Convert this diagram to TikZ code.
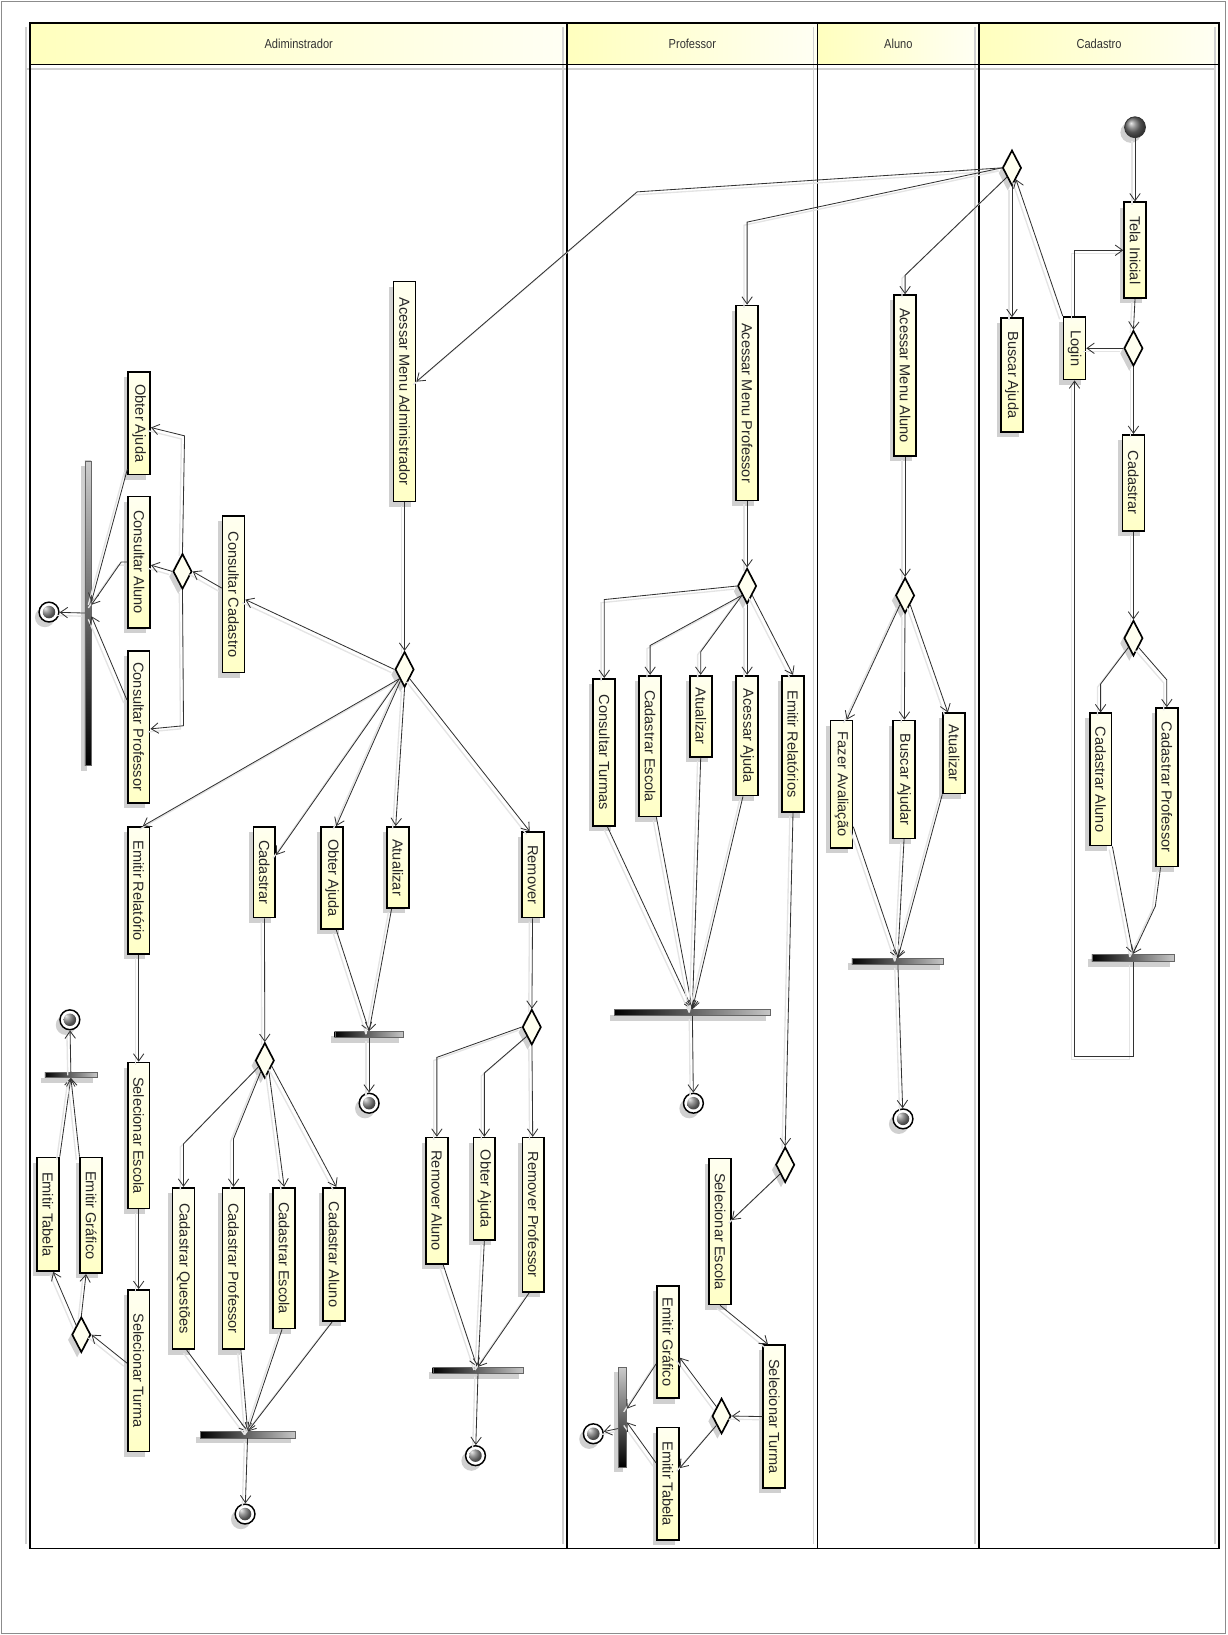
\documentclass[tikz,border=0pt]{standalone}
\usepackage{fontspec}
\usepackage{graphicx}
\setmainfont{Liberation Sans}
\usetikzlibrary{arrows.meta,shapes.geometric,shadows,calc}
\definecolor{actA}{RGB}{255,255,240}
\definecolor{actB}{RGB}{255,255,198}
\definecolor{hdrA}{RGB}{255,255,190}
\definecolor{hdrB}{RGB}{255,255,244}
\definecolor{edgec}{RGB}{50,50,50}
\definecolor{sh}{RGB}{208,208,208}
\definecolor{lsh}{RGB}{228,228,228}
\begin{document}
\begin{tikzpicture}[x=1pt,y=-1pt,
  shd/.style={drop shadow={shadow xshift=-4pt,shadow yshift=-5pt,fill=sh,opacity=1}},
  act/.style={shd,draw=black,line width=1.6pt,top color=actA,bottom color=actB,minimum width=21pt,inner sep=0pt,font=\fontsize{14}{16}\selectfont,text=black!85},
  dec/.style={shd,diamond,draw=black,line width=1.6pt,fill=actA,minimum width=18pt,minimum height=34pt,inner sep=0pt},
  fin/.style={shd,circle,draw=black,line width=1.4pt,fill=white,minimum size=19pt,inner sep=0pt,
    path picture={\shade[ball color=black!55] (path picture bounding box.center) circle (6pt);}},
  ini/.style={shd,circle,draw=black!80,line width=0.8pt,ball color=black!55,minimum size=20pt,inner sep=0pt},
  hbar/.style={shd,rectangle,inner sep=0pt,left color=black,right color=black!22,draw=black!60,line width=0.4pt},
  vbar/.style={shd,rectangle,inner sep=0pt,top color=black!20,bottom color=black,draw=black!60,line width=0.4pt},
  hdr/.style={font=\fontsize{12.5}{14}\selectfont,text=black!80},
  con/.style={draw=edgec,line width=0.8pt,-{Straight Barb[length=7pt,width=10pt]},
    preaction={draw=lsh,line width=1.3pt,-,transform canvas={xshift=-3pt,yshift=-3pt}}}
]
\useasboundingbox (0,0) rectangle (1177,1568);
\draw[black!45,line width=0.8pt] (1.5,1.5) rectangle (1175.5,1566.5);
% pool
\shade[left color=hdrA,right color=hdrB] (29,22) rectangle (544,62);
\shade[left color=hdrA,right color=hdrB] (544,22) rectangle (784,62);
\shade[left color=hdrA,right color=hdrB] (784,22) rectangle (939,62);
\shade[left color=hdrA,right color=hdrB] (939,22) rectangle (1169,62);
\foreach \x in {25,540,780,935,1165} \draw[sh,line width=1.6pt] (\x,26) -- (\x,1481);
\draw[sh,line width=2pt] (25,66) -- (1165,66);
\draw[line width=1.6pt] (29,22) rectangle (1169,1485);
\draw[line width=1.6pt] (29,62) -- (1169,62);
\foreach \x in {544,784,939} \draw[line width=1.6pt] (\x,22) -- (\x,1485);
\node[hdr] (hAdm) at (286.5,42) {\scalebox{0.85}[1]{Adiminstrador}};
\node[hdr] (hProf) at (664,42) {\scalebox{0.85}[1]{Professor}};
\node[hdr] (hAlu) at (861.5,42) {\scalebox{0.85}[1]{Aluno}};
\node[hdr] (hCad) at (1054,42) {\scalebox{0.85}[1]{Cadastro}};

% ---------- Cadastro lane
\node[ini] (init) at (1088.5,122) {};
\node[act,minimum height=92pt] (tela) at (1088.5,240) {\rotatebox{-90}{Tela Inicial}};
\node[dec] (dc1) at (1087,334) {};
\node[act,minimum height=60pt] (login) at (1030.5,334) {\rotatebox{-90}{Login}};
\node[dec] (dmain) at (970.5,161) {};
\node[act,minimum height=109pt] (busca) at (970.5,359.5) {\rotatebox{-90}{Buscar Ajuda}};
\node[act,minimum height=92pt] (cad) at (1087,463) {\rotatebox{-90}{Cadastrar}};
\node[dec] (dc2) at (1087,612) {};
\node[act,minimum height=127pt] (cadal) at (1055.5,747.5) {\rotatebox{-90}{Cadastrar Aluno}};
\node[act,minimum height=152pt] (cadpr) at (1119,755) {\rotatebox{-90}{Cadastrar Professor}};
\node[hbar,minimum width=79pt,minimum height=7pt] (barC) at (1086.5,918.5) {};
\coordinate (loopR) at (1086.5,1013);
\coordinate (loopL) at (1030.5,1013);

% ---------- Aluno lane
\node[act,minimum height=154pt] (ama) at (868,360) {\rotatebox{-90}{Acessar Menu Aluno}};
\node[dec] (dal) at (868,571) {};
\node[act,minimum height=122pt] (fazer) at (807,752) {\rotatebox{-90}{Fazer Avaliação}};
\node[act,minimum height=113pt] (buscar2) at (867,747.5) {\rotatebox{-90}{Buscar Ajudar}};
\node[act,minimum height=77pt] (atual2) at (915,722.5) {\rotatebox{-90}{Atualizar}};
\node[hbar,minimum width=88pt,minimum height=6pt] (barA) at (861,922) {};
\node[fin] (finA) at (866,1073) {};

% ---------- Professor lane
\node[act,minimum height=187pt] (amp) at (716.5,386.5) {\rotatebox{-90}{Acessar Menu Professor}};
\node[dec] (dprof) at (716.5,562) {};
\node[act,minimum height=141pt] (ct) at (579.5,721.5) {\rotatebox{-90}{Consultar Turmas}};
\node[act,minimum height=135pt] (ce) at (623.5,715.5) {\rotatebox{-90}{Cadastrar Escola}};
\node[act,minimum height=78pt] (atp) at (672,687) {\rotatebox{-90}{Atualizar}};
\node[act,minimum height=115pt] (aaj) at (716.5,705.5) {\rotatebox{-90}{Acessar Ajuda}};
\node[act,minimum height=131pt] (er) at (760.5,713.5) {\rotatebox{-90}{Emitir Relatórios}};
\node[hbar,minimum width=150pt,minimum height=6pt] (barP) at (664,971) {};
\node[fin] (finP) at (665,1058) {};
\node[dec] (dprof2) at (753,1117) {};
\node[act,minimum height=140pt] (sep) at (690.5,1181) {\rotatebox{-90}{Selecionar Escola}};
\node[act,minimum height=137pt] (stp) at (742.5,1358.5) {\rotatebox{-90}{Selecionar Turma}};
\node[dec] (dprof3) at (692,1358) {};
\node[act,minimum height=108pt] (egp) at (640.5,1287) {\rotatebox{-90}{Emitir Gráfico}};
\node[act,minimum height=108pt] (etp) at (640.5,1423) {\rotatebox{-90}{Emitir Tabela}};
\node[vbar,minimum width=8pt,minimum height=96pt] (barP2) at (597,1359) {};
\node[fin] (finP2) at (569,1375) {};

% ---------- Administrador lane
\node[act,minimum height=211pt] (aadm) at (388,375.5) {\rotatebox{-90}{Acessar Menu Administrador}};
\node[dec] (dadm) at (388,642) {};
\node[act,minimum height=150pt] (cc) at (224,570) {\rotatebox{-90}{Consultar Cadastro}};
\node[dec] (dcc) at (175,548) {};
\node[act,minimum height=98pt] (oa1) at (133.5,406) {\rotatebox{-90}{Obter Ajuda}};
\node[act,minimum height=126pt] (cal) at (133.5,539) {\rotatebox{-90}{Consultar Aluno}};
\node[act,minimum height=146pt] (cpr) at (133,697) {\rotatebox{-90}{Consultar Professor}};
\node[vbar,minimum width=6pt,minimum height=292pt] (barV) at (84.5,588) {};
\node[fin] (finV) at (47,587) {};
\node[act,minimum height=122pt] (er1) at (133,854) {\rotatebox{-90}{Emitir Relatório}};
\node[act,minimum height=87pt] (cad1) at (253.5,836.5) {\rotatebox{-90}{Cadastrar}};
\node[act,minimum height=98pt] (oa2) at (318.5,842) {\rotatebox{-90}{Obter Ajuda}};
\node[act,minimum height=78pt] (at1) at (381.5,832) {\rotatebox{-90}{Atualizar}};
\node[act,minimum height=82pt] (rem) at (511,839) {\rotatebox{-90}{Remover}};
\node[hbar,minimum width=66pt,minimum height=6pt] (barM) at (354,992) {};
\node[fin] (finM) at (354,1058) {};
\node[dec] (dcad) at (254,1017) {};
\node[act,minimum height=155pt] (cq) at (176,1216.5) {\rotatebox{-90}{Cadastrar Questões}};
\node[act,minimum height=155pt] (cp2) at (224,1216.5) {\rotatebox{-90}{Cadastrar Professor}};
\node[act,minimum height=135pt] (ce2) at (272.5,1206.5) {\rotatebox{-90}{Cadastrar Escola}};
\node[act,minimum height=128pt] (ca2) at (320.5,1203) {\rotatebox{-90}{Cadastrar Aluno}};
\node[hbar,minimum width=91pt,minimum height=6pt] (barB) at (237.5,1376) {};
\node[fin] (finB) at (235,1452) {};
\node[act,minimum height=140pt] (se1) at (133,1089) {\rotatebox{-90}{Selecionar Escola}};
\node[act,minimum height=155pt] (st1) at (133,1314.5) {\rotatebox{-90}{Selecionar Turma}};
\node[dec] (dst) at (78,1280) {};
\node[act,minimum height=109pt] (et1) at (46,1164.5) {\rotatebox{-90}{Emitir Tabela}};
\node[act,minimum height=111pt] (eg1) at (87.5,1165.5) {\rotatebox{-90}{Emitir Gráfico}};
\node[hbar,minimum width=50pt,minimum height=5pt] (barE) at (68,1031) {};
\node[fin] (finE) at (67,978) {};
\node[dec] (drem) at (510,985) {};
\node[act,minimum height=121pt] (ra) at (419,1151.5) {\rotatebox{-90}{Remover Aluno}};
\node[act,minimum height=98pt] (oa3) at (464.5,1140) {\rotatebox{-90}{Obter Ajuda}};
\node[act,minimum height=148pt] (rp) at (511.5,1165) {\rotatebox{-90}{Remover Professor}};
\node[hbar,minimum width=87pt,minimum height=6pt] (barR) at (458.5,1314) {};
\node[fin] (finR) at (456,1396) {};

% ---------- connectors: Cadastro
\draw[con] (init) -- (tela);
\draw[con] (tela.south) -- (dc1.north);
\draw[con] (dc1) -- (login);
\draw[con] (login.north) |- (tela.west);
\draw[con] (login.north west) -- (dmain);
\draw[con] (dmain) -- (busca);
\draw[con] (dc1) -- (cad);
\draw[con] (cad) -- (dc2);
\draw[con] (dc2.south west) -- (1055.5,656) -- (cadal.north);
\draw[con] (dc2.south east) -- (1119,652) -- (cadpr.north);
\draw[con] (cadal.south east) -- (barC.north);
\draw[con] ([xshift=-6pt]cadpr.south) -- (1108,869) -- (barC.north);
\draw[con] (barC.south) -- (loopR) -- (loopL) -- (login.south);
% from main decision
\draw[con] (dmain.west) -- (611,184) -- ([yshift=9.5pt]aadm.east);
\draw[con] (dmain.west) -- (716.5,213) -- (amp.north);
\draw[con] (dmain.south west) -- (868,264) -- (ama.north);
% Aluno
\draw[con] (ama) -- (dal);
\draw[con] (dal.south west) -- ([xshift=5pt]fazer.north);
\draw[con] (dal) -- (buscar2);
\draw[con] (dal.south east) -- ([xshift=-6pt]atual2.north);
\draw[con] ([yshift=21pt]fazer.south east) -- (barA.north);
\draw[con] (buscar2.south) -- (barA.north);
\draw[con] (atual2.south west) -- (barA.north);
\draw[con] (barA) -- (finA);
% Professor
\draw[con] (amp) -- (dprof);
\draw[con] (dprof.west) -- (579.5,575) -- (ct.north);
\draw[con] (dprof.south west) -- (623.5,619) -- (ce.north);
\draw[con] (dprof.south west) -- (672,625) -- (atp.north);
\draw[con] (dprof) -- (aaj);
\draw[con] (dprof.south east) -- (er.north);
\draw[con] ([xshift=3pt]ct.south) -- (barP.north);
\draw[con] ([xshift=6pt]ce.south) -- (barP.north);
\draw[con] (atp.south) -- (barP.north);
\draw[con] ([xshift=-4pt]aaj.south) -- (barP.north);
\draw[con] (barP) -- (finP);
\draw[con] (er.south) -- (dprof2.north);
\draw[con] (dprof2.south west) -- ([yshift=11pt]sep.east);
\draw[con] (sep.south) -- ([xshift=-6pt]stp.north);
\draw[con] (stp.west) -- (dprof3.east);
\draw[con] (dprof3.north west) -- ([yshift=-15pt]egp.east);
\draw[con] (dprof3.south west) -- ([yshift=15pt]etp.east);
\draw[con] ([yshift=-21pt]egp.west) -- ([yshift=8pt]barP2.east);
\draw[con] ([yshift=20pt]etp.west) -- ([yshift=-5pt]barP2.east);
\draw[con] ([yshift=-11pt]barP2.west) -- (finP2);
% Administrador
\draw[con] (aadm) -- (dadm);
\draw[con] (dadm.west) -- ([yshift=-5pt]cc.east);
\draw[con] ([yshift=6pt]cc.west) -- (dcc.east);
\draw[con] (dcc.north) -- (177,418) -- ([yshift=-4pt]oa1.east);
\draw[con] (dcc.west) -- ([yshift=-3pt]cal.east);
\draw[con] (dcc.south) -- (176,696) -- ([yshift=-2pt]cpr.east);
\draw[con] ([yshift=6pt]oa1.south west) -- ([yshift=11pt]barV.east);
\draw[con] (cal.west) -- ++(-6,0) -- ([yshift=8pt]barV.east);
\draw[con] ([yshift=-48pt]cpr.north west) -- ([yshift=-3pt]barV.east);
\draw[con] (barV) -- (finV);
\draw[con] (dadm.south west) -- ([xshift=4pt]er1.north);
\draw[con] (dadm.south west) -- ([yshift=16.5pt]cad1.east);
\draw[con] (dadm.250) -- ([xshift=4pt]oa2.north);
\draw[con] (dadm.south) -- ([xshift=-2pt]at1.north);
\draw[con] (dadm.south east) -- ([xshift=-3pt]rem.north);
\draw[con] ([xshift=4pt]oa2.south) -- (barM.north);
\draw[con] ([xshift=-6pt]at1.south) -- (barM.north);
\draw[con] (barM) -- (finM);
\draw[con] (cad1) -- (dcad);
\draw[con] (dcad.225) -- (176,1097) -- (cq.north);
\draw[con] (dcad.250) -- (224,1092) -- (cp2.north);
\draw[con] (dcad.290) -- (ce2.north);
\draw[con] (dcad.320) -- ([xshift=2pt]ca2.north);
\draw[con] ([xshift=3pt]cq.south) -- (barB.north);
\draw[con] ([xshift=7pt]cp2.south) -- (barB.north);
\draw[con] ([xshift=-2pt]ce2.south) -- (barB.north);
\draw[con] ([xshift=-2pt]ca2.south) -- (barB.north);
\draw[con] (barB) -- (finB);
\draw[con] (er1) -- (se1);
\draw[con] (se1) -- (st1);
\draw[con] ([yshift=-71pt]st1.north west) -- (dst.east);
\draw[con] (dst.north west) -- ([xshift=5pt]et1.south);
\draw[con] (dst.north) -- ([xshift=-5pt]eg1.south);
\draw[con] (et1.north east) -- (barE.south);
\draw[con] (eg1.north west) -- (barE.south);
\draw[con] (barE) -- (finE);
\draw[con] (rem) -- (drem);
\draw[con] (drem.west) -- (419,1014) -- (ra.north);
\draw[con] (drem.south west) -- (464.5,1029) -- (oa3.north);
\draw[con] (drem) -- (rp);
\draw[con] ([xshift=6pt]ra.south) -- ([xshift=-1pt]barR.north);
\draw[con] (oa3.south) -- (barR.north);
\draw[con] ([xshift=-4pt]rp.south) -- (barR.north);
\draw[con] (barR) -- (finR);
\end{tikzpicture}
\end{document}
